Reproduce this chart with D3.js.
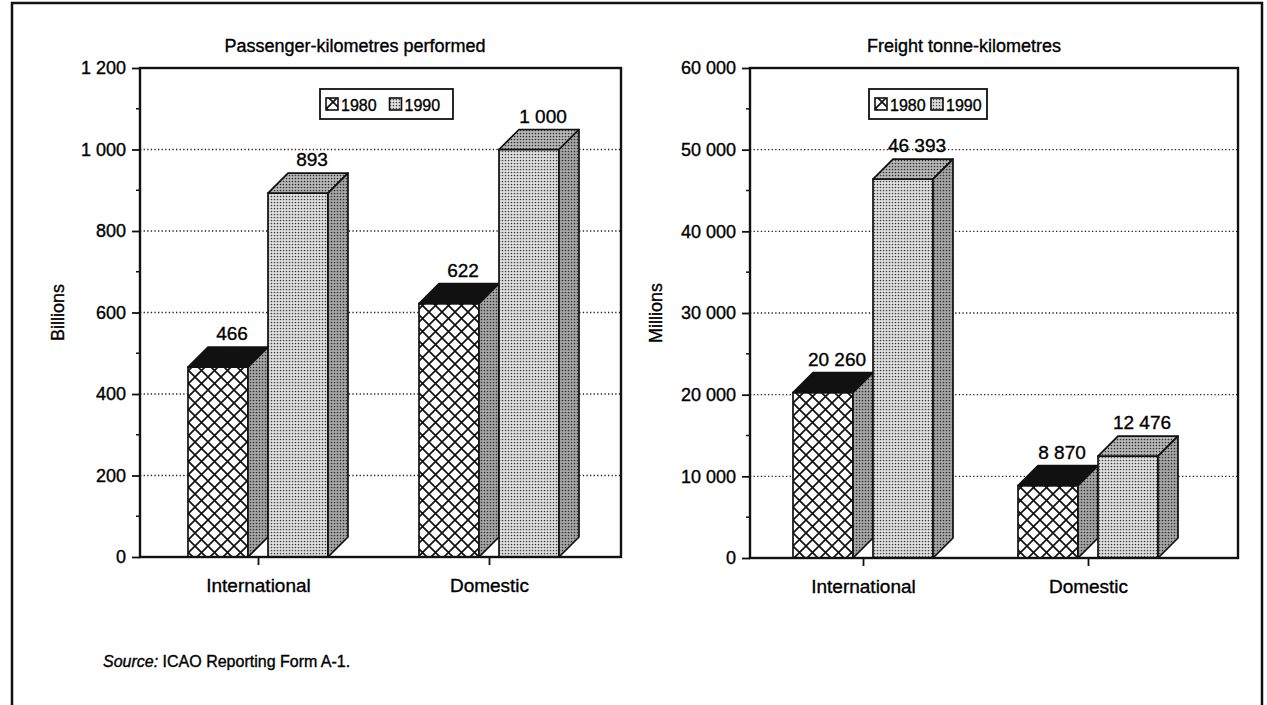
<!DOCTYPE html>
<html>
<head>
<meta charset="utf-8">
<script src="https://cdn.jsdelivr.net/npm/d3@7"></script>
<style>
  body { margin: 0; background: #fff; }
  svg text { font-family: "Liberation Sans", Arial, sans-serif; fill: #000; stroke: #000; stroke-width: 0.35; }
</style>
</head>
<body>
<svg id="chart" width="1267" height="705"></svg>
<script>
// data
const categories = ["International", "Domestic"];
const years = ["1980", "1990"];
const passenger1980 = [466, 622];
const passenger1990 = [893, 1000];
const freight1980 = [20260, 8870];
const freight1990 = [46393, 12476];
const passengerTicks = [0, 200, 400, 600, 800, 1000, 1200];
const freightTicks = [0, 10000, 20000, 30000, 40000, 50000, 60000];

const svg = d3.select('#chart');
const fmt = d3.formatLocale({ decimal: '.', thousands: ' ', grouping: [3], currency: ['', ''] }).format(',d');

// patterns
const defs = svg.append('defs');
const cross = defs.append('pattern').attr('id', 'cross')
    .attr('patternUnits', 'userSpaceOnUse').attr('width', 13).attr('height', 13);
cross.append('rect').attr('width', 13).attr('height', 13).attr('fill', '#fff');
cross.append('path').attr('d', 'M0,0L13,13M13,0L0,13M-1,12L1,14M12,-1L14,1')
    .attr('stroke', '#111').attr('stroke-width', 1.7);

function dots(id, bg, fg, r) {
    const p = defs.append('pattern').attr('id', id)
        .attr('patternUnits', 'userSpaceOnUse').attr('width', 3).attr('height', 3);
    p.append('rect').attr('width', 3).attr('height', 3).attr('fill', bg);
    p.append('circle').attr('cx', 1.5).attr('cy', 1.5).attr('r', r).attr('fill', fg);
}
dots('stipple', '#e2e2e2', '#444', 0.85);
dots('side', '#a8a8a8', '#333', 0.85);
dots('topgrey', '#bababa', '#333', 0.85);

// outer frame (open at bottom)
svg.append('path')
    .attr('d', 'M12,705L12,3L1262,3L1262,705')
    .attr('fill', 'none').attr('stroke', '#111').attr('stroke-width', 2.5);

function drawPanel(cfg) {
    const g = svg.append('g');
    const y = d3.scaleLinear().domain([0, cfg.max]).range([cfg.bottom, cfg.top]);
    const x = d3.scalePoint().domain(categories).range(cfg.centers);
    const barW = 60, gap = 10, depth = 20;

    // gridlines
    g.selectAll('.grid').data(cfg.ticks.filter(d => d > 0 && d < cfg.max)).enter()
        .append('line')
        .attr('x1', cfg.left).attr('x2', cfg.right)
        .attr('y1', d => y(d)).attr('y2', d => y(d))
        .attr('stroke', '#222').attr('stroke-width', 1.3).attr('stroke-dasharray', '1.3,2.3');

    // bars
    const series = [
        { year: years[0], values: cfg.v1980, front: 'url(#cross)', top: '#111', side: 'url(#side)', off: -gap - barW },
        { year: years[1], values: cfg.v1990, front: 'url(#stipple)', top: 'url(#topgrey)', side: 'url(#side)', off: gap }
    ];
    categories.forEach((c, i) => {
        series.forEach(s => {
            const v = s.values[i];
            const x0 = x(c) + s.off, x1 = x0 + barW;
            const yt = y(v), yb = y(0);
            g.append('rect')
                .attr('x', x0).attr('y', yt).attr('width', barW).attr('height', yb - yt)
                .attr('fill', s.front).attr('stroke', '#111').attr('stroke-width', 1.7);
            g.append('path')
                .attr('d', `M${x0},${yt}L${x0 + depth},${yt - depth}L${x1 + depth},${yt - depth}L${x1},${yt}Z`)
                .attr('fill', s.top).attr('stroke', '#111').attr('stroke-width', 1.7).attr('stroke-linejoin', 'round');
            g.append('path')
                .attr('d', `M${x1},${yt}L${x1 + depth},${yt - depth}L${x1 + depth},${yb - depth}L${x1},${yb}Z`)
                .attr('fill', s.side).attr('stroke', '#111').attr('stroke-width', 1.7).attr('stroke-linejoin', 'round');
            g.append('text')
                .attr('x', x0 + barW / 2 + 14).attr('y', yt - depth - 7)
                .attr('text-anchor', 'middle').attr('font-size', 19)
                .text(fmt(v));
        });
    });

    // plot frame
    g.append('rect')
        .attr('x', cfg.left).attr('y', cfg.top)
        .attr('width', cfg.right - cfg.left).attr('height', cfg.bottom - cfg.top)
        .attr('fill', 'none').attr('stroke', '#111').attr('stroke-width', 2.4);

    // y axis
    const yAxis = g.append('g').attr('transform', `translate(${cfg.left},0)`)
        .call(d3.axisLeft(y).tickValues(cfg.ticks).tickSize(8).tickPadding(6).tickFormat(fmt));
    yAxis.select('.domain').remove();
    yAxis.selectAll('line').attr('stroke', '#111').attr('stroke-width', 1.8);
    yAxis.selectAll('text').attr('font-size', 18).attr('font-family', '"Liberation Sans", Arial, sans-serif').attr('fill', '#000');

    const minor = d3.range(cfg.max / 12, cfg.max, cfg.max / 6);
    g.selectAll('.minor').data(minor).enter().append('line')
        .attr('x1', cfg.left - 4).attr('x2', cfg.left)
        .attr('y1', d => y(d)).attr('y2', d => y(d))
        .attr('stroke', '#111').attr('stroke-width', 1.5);

    // x axis
    const xAxis = g.append('g').attr('transform', `translate(0,${cfg.bottom})`)
        .call(d3.axisBottom(x).tickSize(8).tickPadding(14));
    xAxis.select('.domain').remove();
    xAxis.selectAll('line').attr('stroke', '#111').attr('stroke-width', 1.8);
    xAxis.selectAll('text').attr('font-size', 19).attr('font-family', '"Liberation Sans", Arial, sans-serif').attr('fill', '#000');

    // title and axis label
    g.append('text')
        .attr('x', cfg.titleX).attr('y', 52)
        .attr('text-anchor', 'middle').attr('font-size', 18)
        .text(cfg.title);
    g.append('text')
        .attr('transform', `translate(${cfg.labelX},${(cfg.top + cfg.bottom) / 2}) rotate(-90)`)
        .attr('text-anchor', 'middle').attr('font-size', 18)
        .text(cfg.unit);

    // legend
    const lg = g.append('g').attr('transform', `translate(${cfg.legendX},${cfg.legendY})`);
    lg.append('rect').attr('width', cfg.legendW).attr('height', 30)
        .attr('fill', '#fff').attr('stroke', '#111').attr('stroke-width', 1.8);
    const icons = ['url(#cross)', 'url(#stipple)'];
    years.forEach((yr, i) => {
        const ix = 6 + i * (cfg.legendW / 2 - 3);
        lg.append('rect').attr('x', ix).attr('y', 9).attr('width', 12).attr('height', 12)
            .attr('fill', icons[i]).attr('stroke', '#111').attr('stroke-width', 1.6);
        lg.append('text').attr('x', ix + 15).attr('y', 21.5).attr('font-size', 16).text(yr);
    });
}

drawPanel({
    title: 'Passenger-kilometres performed', unit: 'Billions',
    v1980: passenger1980, v1990: passenger1990, ticks: passengerTicks, max: 1200,
    left: 140, right: 621, top: 68, bottom: 557, centers: [258, 489],
    titleX: 355, labelX: 64, legendX: 320, legendY: 89, legendW: 133
});
drawPanel({
    title: 'Freight tonne-kilometres', unit: 'Millions',
    v1980: freight1980, v1990: freight1990, ticks: freightTicks, max: 60000,
    left: 750, right: 1238, top: 68, bottom: 558, centers: [863, 1088],
    titleX: 964, labelX: 662, legendX: 869, legendY: 89, legendW: 118
});

// source note
const src = svg.append('text').attr('x', 103).attr('y', 667).attr('font-size', 16);
src.append('tspan').attr('font-style', 'italic').text('Source:');
src.append('tspan').text(' ICAO Reporting Form A-1.');
</script>
</body>
</html>
